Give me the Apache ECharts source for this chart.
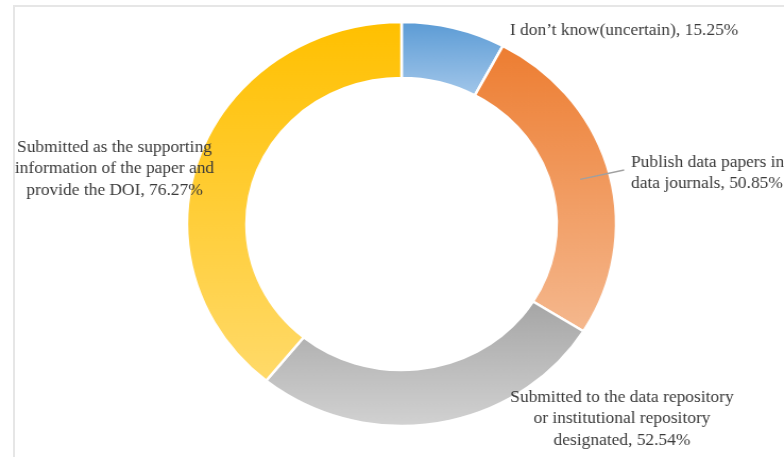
<!DOCTYPE html>
<html>
<head>
<meta charset="utf-8">
<script src="https://cdn.jsdelivr.net/npm/echarts@6/dist/echarts.min.js"></script>
<style>
  html, body { margin: 0; padding: 0; background: #ffffff; overflow: hidden; }
  #frame {
    position: absolute; left: 13px; top: 5px; width: 771px; height: 452px;
    border-top: 2px solid #e6e6e6; border-left: 2px solid #e6e6e6;
  }
  /* drawn a little narrower, then widened so the ring comes out slightly oval */
  #chart {
    position: absolute; left: 0; top: 0; width: 738px; height: 457px;
    transform: scaleX(1.0623); transform-origin: 0 0;
  }
</style>
</head>
<body>
<div id="frame"></div>
<div id="chart"></div>
<script>
// Survey answers: how researchers share their data (% of respondents)
const categories = [
  'I don\u2019t know(uncertain)',
  'Publish data papers in\ndata journals',
  'Submitted to the data repository\nor institutional repository\ndesignated',
  'Submitted as the supporting\ninformation of the paper and\nprovide the DOI'
];
const shares = [15.25, 50.85, 52.54, 76.27];

// Per-slice gradient colours (top -> bottom)
const topColors = ['#5b9bd5', '#ed7d31', '#a5a5a5', '#ffc000'];
const bottomColors = ['#a3c7ea', '#f5b88e', '#d2d2d2', '#ffda6a'];

// Label anchor points, in chart pixels
const labelSpots = [
  { x: 480, y: 31, align: 'left' },
  { x: 594, y: 173, align: 'left' },
  { x: 585.5, y: 419, align: 'center' },
  { x: 107.8, y: 169, align: 'center' }
];
// Slice whose label is tied back to it by a leader line
const leaderIndex = 1;

const center = [378, 224];
const radii = [146, 202];
const total = shares.reduce((a, b) => a + b, 0);

// Point halfway through the ring at the middle angle of slice i
function sliceMidPoint(i) {
  let before = 0;
  for (let k = 0; k < i; k++) before += shares[k];
  const deg = 90 - 360 * (before + shares[i] / 2) / total;
  const rad = deg * Math.PI / 180;
  const r = (radii[0] + radii[1]) / 2;
  return [center[0] + r * Math.cos(rad), center[1] - r * Math.sin(rad)];
}

const leaderSpot = labelSpots[leaderIndex];

const chart = echarts.init(document.getElementById('chart'), null, { renderer: 'canvas' });

chart.setOption({
  animation: false,
  backgroundColor: 'transparent',
  graphic: [{
    type: 'polyline',
    z: 100,
    silent: true,
    shape: { points: [sliceMidPoint(leaderIndex), [leaderSpot.x - 6.5, leaderSpot.y - 3]] },
    style: { stroke: '#a0a0a0', lineWidth: 1.4, fill: null }
  }],
  series: [{
    type: 'pie',
    center: center,
    radius: radii,
    startAngle: 90,
    clockwise: true,
    avoidLabelOverlap: false,
    itemStyle: { borderColor: '#ffffff', borderWidth: 2.5 },
    label: {
      show: true,
      position: 'outside',
      formatter: '{b}, {c}%',
      fontFamily: 'Liberation Serif',
      fontSize: 16.4,
      lineHeight: 21.5,
      color: '#3a3a3a'
    },
    labelLine: { show: false },
    labelLayout: function (params) {
      const spot = labelSpots[params.dataIndex];
      return { x: spot.x, y: spot.y, align: spot.align, verticalAlign: 'middle' };
    },
    emphasis: { disabled: true },
    data: categories.map((name, i) => ({
      name: name,
      value: shares[i],
      label: { align: labelSpots[i].align },
      itemStyle: {
        color: new echarts.graphic.LinearGradient(0, 0, 0, 1, [
          { offset: 0, color: topColors[i] },
          { offset: 1, color: bottomColors[i] }
        ])
      }
    }))
  }]
});
</script>
</body>
</html>
